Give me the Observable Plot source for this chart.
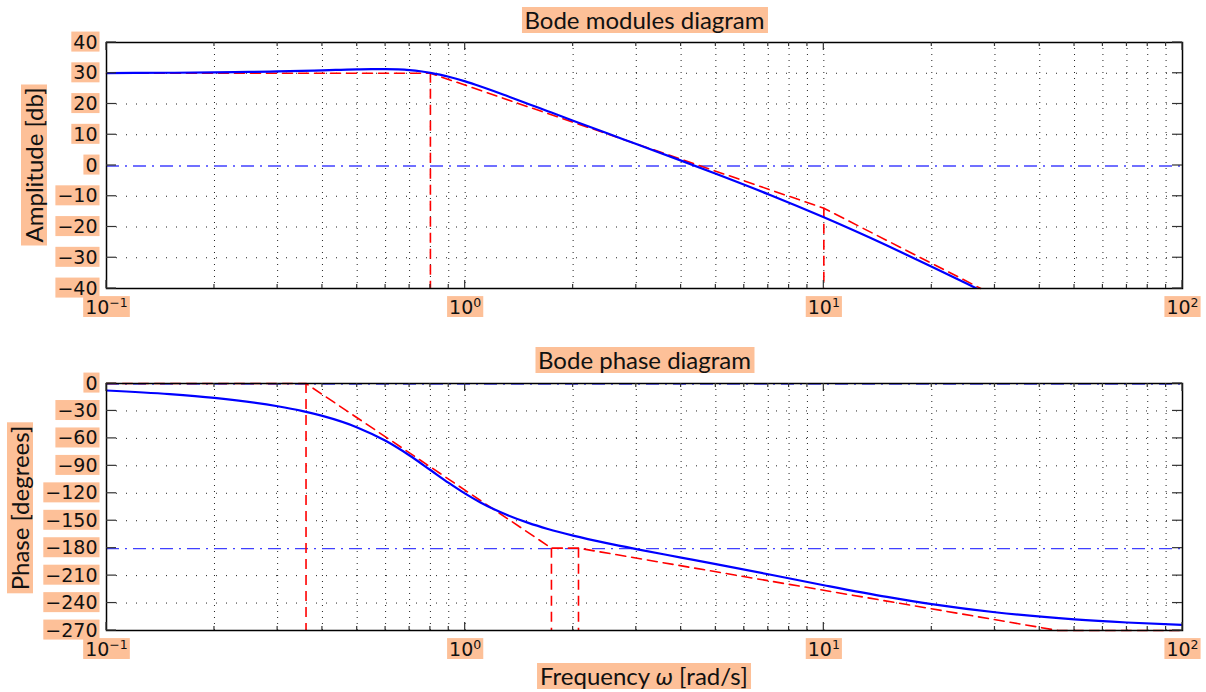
<!DOCTYPE html>
<html><head><meta charset="utf-8">
<script src="https://cdn.jsdelivr.net/npm/d3@7"></script>
<script src="https://cdn.jsdelivr.net/npm/@observablehq/plot@0.6"></script>
<style>
body{margin:0;background:#fff;}
#wrap{position:relative;width:1206px;height:692px;overflow:hidden;}
.lbl{position:absolute;background:#fdc098;color:#111;font-family:Lato,"DejaVu Sans",sans-serif;font-size:24px;line-height:26px;padding:0 3px;white-space:nowrap;transform:translate(-50%,-50%);}
.rot{transform:translate(-50%,-50%) rotate(-90deg);}
.plot{position:absolute;left:0;}
</style></head><body><div id="wrap"></div>
<script>
// ---- data ----
const xMajor = [0.1, 1, 10, 100];
const xMinor = [0.2,0.3,0.4,0.5,0.6,0.7,0.8,0.9,2,3,4,5,6,7,8,9,20,30,40,50,60,70,80,90];
const magTicks = [-40,-30,-20,-10,0,10,20,30,40];
const phaseTicks = [-270,-240,-210,-180,-150,-120,-90,-60,-30,0];

// magnitude curve (rad/s, dB)
const magFreq = [0.1,0.15,0.2,0.25,0.3,0.35,0.4,0.45,0.5,0.55,0.6,0.65,0.7,0.75,0.8,0.85,0.9,1.0,1.1,1.2,1.3,1.5,1.7,2,2.5,3,4,5,7,10,15,20,25,27];
const magDb   = [30.07,30.16,30.27,30.42,30.59,30.77,30.95,31.12,31.26,31.34,31.34,31.23,31.0,30.64,30.14,29.55,28.87,27.36,25.78,24.23,22.74,20.03,17.65,14.57,10.38,6.98,1.58,-2.7,-9.35,-16.86,-26.03,-32.9,-38.39,-40.3];
// magnitude asymptote
const magAsymFreq = [0.1,0.8,10,27.4];
const magAsymDb   = [30,30,-13.9,-40];
const magBreakFreq = [0.8,10];
const magBreakDb   = [30,-13.9];
const magRef = [0];

// phase curve (rad/s, degrees)
const phFreq = [0.1,0.15,0.2,0.3,0.35,0.4,0.5,0.6,0.7,0.8,0.9,1.0,1.1,1.2,1.3,1.5,1.7,2,2.5,3,4,5,7,10,15,20,30,50,70,100];
const phDeg  = [-7.66,-11.64,-15.8,-24.87,-29.93,-35.45,-48.0,-62.67,-78.71,-94.57,-108.68,-120.4,-129.74,-137.22,-143.26,-152.39,-159.01,-166.3,-174.78,-181.0,-190.26,-197.43,-208.52,-220.49,-233.31,-241.18,-250.07,-257.79,-261.23,-263.9];
// phase asymptote
const phAsymFreq = [0.1,0.36,1.74,2.07,45,100];
const phAsymDeg  = [0,0,-180,-180,-270,-270];
const phBreakFreq = [0.36,1.74,2.07];
const phBreakDeg  = [0,-180,-180];
const phRef = [0,-180];

const fmtX = d => { const e = Math.round(Math.log10(d)); return "10^" + String(e).replace("-", "\u2212"); };

function tickMarks(yTicks) {
  return (index, scales, values, dims) => {
    const x = scales.x, y = scales.y;
    const g = d3.create("svg:g").attr("stroke", "#333").attr("stroke-width", 1.2);
    const top = dims.marginTop, bottom = dims.height - dims.marginBottom;
    const left = dims.marginLeft, right = dims.width - dims.marginRight;
    const addX = (arr, len) => arr.forEach(v => {
      const px = x(v);
      g.append("line").attr("x1", px).attr("x2", px).attr("y1", bottom).attr("y2", bottom - len);
      g.append("line").attr("x1", px).attr("x2", px).attr("y1", top).attr("y2", top + len);
    });
    addX(xMajor, 8); addX(xMinor, 4);
    yTicks.forEach(v => {
      const py = y(v);
      g.append("line").attr("y1", py).attr("y2", py).attr("x1", left).attr("x2", left + 10);
      g.append("line").attr("y1", py).attr("y2", py).attr("x1", right).attr("x2", right - 10);
    });
    return g.node();
  };
}

function panel({height, marginTop, marginBottom, domain, yTicks, freq, vals, aFreq, aVals, bFreq, bVals, refs}) {
  const idxB = bFreq.map((_, i) => i);
  const gridY = yTicks.filter(v => !refs.includes(v));
  return Plot.plot({
    width: 1206, height, marginLeft: 106, marginRight: 24, marginTop, marginBottom,
    style: {fontFamily: "'DejaVu Sans', sans-serif", fontSize: "19px", color: "#111", background: "transparent"},
    x: {type: "log", domain: [0.1, 100]},
    y: {domain},
    marks: [
      Plot.ruleX([...xMajor, ...xMinor], {stroke: "#222", strokeWidth: 1, strokeDasharray: "1,5"}),
      Plot.ruleY(gridY, {stroke: "#222", strokeWidth: 1, strokeDasharray: "1,9"}),
      Plot.ruleY(refs, {stroke: "#0000ff", strokeWidth: 1.3, strokeOpacity: 0.75, strokeDasharray: "13,6,2,6", dy: 0.5}),
      Plot.line(aFreq.map((_, i) => i), {x: i => aFreq[i], y: i => aVals[i], stroke: "#ff0000", strokeWidth: 1.6, strokeDasharray: "10,6"}),
      Plot.ruleX(idxB, {x: i => bFreq[i], y1: i => bVals[i], y2: domain[0], stroke: "#ff0000", strokeWidth: 1.6, strokeDasharray: "10,6"}),
      Plot.line(freq.map((_, i) => i), {x: i => freq[i], y: i => vals[i], stroke: "#0000ff", strokeWidth: 2.2, curve: "monotone-x", clip: true}),
      Plot.frame({stroke: "#000", strokeWidth: 1.5}),
      tickMarks(yTicks),
      Plot.axisX(xMajor, {anchor: "bottom", tickSize: 0, tickPadding: 12, tickFormat: fmtX, label: null}),
      Plot.axisY(yTicks, {anchor: "left", tickSize: 0, tickPadding: 9, label: null})
    ]
  });
}

function decorate(svg) {
  const ns = "http://www.w3.org/2000/svg";
  svg.querySelectorAll('g[aria-label="x-axis tick label"] text').forEach(t => {
    const [b, e] = t.textContent.split("^");
    t.textContent = "";
    const t1 = document.createElementNS(ns, "tspan"); t1.textContent = b; t.appendChild(t1);
    const t2 = document.createElementNS(ns, "tspan"); t2.textContent = e;
    t2.setAttribute("dy", "-0.55em"); t2.setAttribute("font-size", "0.66em"); t.appendChild(t2);
  });
  svg.querySelectorAll('g[aria-label$="tick label"] text').forEach(t => {
    t.setAttribute("font-family", "DejaVu Sans");
    t.setAttribute("font-size", "19");
    t.setAttribute("fill", "#111");
    const bb = t.getBBox();
    const r = document.createElementNS(ns, "rect");
    r.setAttribute("x", bb.x - 2); r.setAttribute("y", bb.y + 1);
    r.setAttribute("width", bb.width + 4); r.setAttribute("height", bb.height - 2);
    r.setAttribute("fill", "#fdc098"); r.setAttribute("stroke", "none");
    if (t.getAttribute("transform")) r.setAttribute("transform", t.getAttribute("transform"));
    t.parentNode.insertBefore(r, t);
  });
}

const wrap = document.getElementById("wrap");
const top1 = panel({height: 330, marginTop: 42, marginBottom: 42, domain: [-40, 40], yTicks: magTicks,
  freq: magFreq, vals: magDb, aFreq: magAsymFreq, aVals: magAsymDb, bFreq: magBreakFreq, bVals: magBreakDb, refs: magRef});
top1.classList.add("plot"); top1.style.position = "absolute"; top1.style.top = "0px";
wrap.appendChild(top1); decorate(top1);

const bot = panel({height: 352, marginTop: 43, marginBottom: 62, domain: [-270, 0], yTicks: phaseTicks,
  freq: phFreq, vals: phDeg, aFreq: phAsymFreq, aVals: phAsymDeg, bFreq: phBreakFreq, bVals: phBreakDeg, refs: phRef});
bot.classList.add("plot"); bot.style.position = "absolute"; bot.style.top = "340px";
wrap.appendChild(bot); decorate(bot);

function label(text, cx, cy, rot) {
  const d = document.createElement("div");
  d.className = "lbl" + (rot ? " rot" : "");
  d.innerHTML = text; d.style.left = cx + "px"; d.style.top = cy + "px";
  wrap.appendChild(d);
}
label("Bode modules diagram", 644.5, 20);
label("Bode phase diagram", 644.5, 360);
label("Frequency <i>ω</i> [rad/s]", 644, 675.5);
label("Amplitude [db]", 33.5, 164.5, true);
label("Phase [degrees]", 20, 507.5, true);
</script>
</body></html>
